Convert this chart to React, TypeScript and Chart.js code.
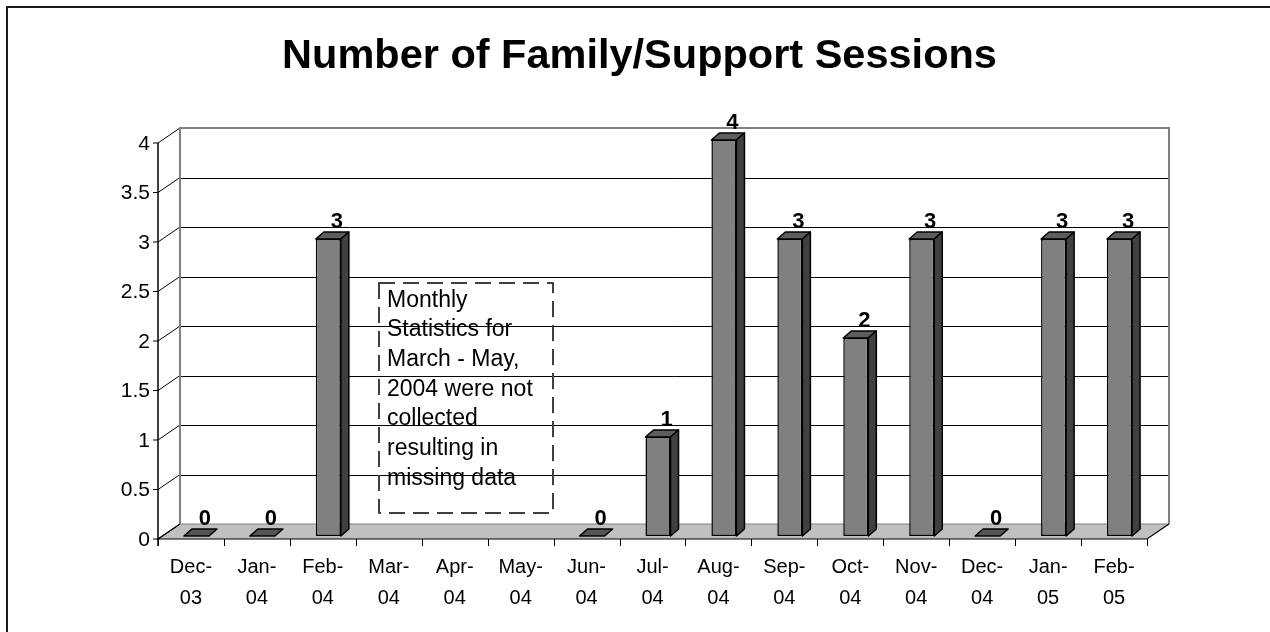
import { useEffect, useRef } from 'react';
import { Chart, registerables } from 'chart.js';

Chart.register(...registerables);

const categories = ['Dec-03', 'Jan-04', 'Feb-04', 'Mar-04', 'Apr-04', 'May-04', 'Jun-04', 'Jul-04', 'Aug-04', 'Sep-04', 'Oct-04', 'Nov-04', 'Dec-04', 'Jan-05', 'Feb-05'];
const sessions: (number | null)[] = [0, 0, 3, null, null, null, 0, 1, 4, 3, 2, 3, 0, 3, 3];
const yTicks = [0, 0.5, 1, 1.5, 2, 2.5, 3, 3.5, 4];
const yTickLabels = ['0', '0.5', '1', '1.5', '2', '2.5', '3', '3.5', '4'];
const titleText = 'Number of Family/Support Sessions';
const noteLines = ['Monthly', 'Statistics for', 'March - May,', '2004 were not', 'collected', 'resulting in', 'missing data'];

const FONT = "'Liberation Sans', Arial, sans-serif";
const FRONT = { dx: -5.5, dy: 3 };
const BACK = { dx: 16.5, dy: -12 };
const DEPTH = { dx: 8, dy: -7 };

const threeD = {
  id: 'threeD',
  beforeDraw(chart: any) {
    const { ctx, width, height } = chart;
    ctx.save();
    ctx.fillStyle = '#ffffff';
    ctx.fillRect(0, 0, width, height);
    ctx.fillStyle = '#1a1a1a';
    ctx.fillRect(6, 6, 2, height - 6);
    ctx.fillRect(6, 6, width - 6, 2);
    ctx.fillStyle = '#000';
    ctx.font = `bold 41.5px ${FONT}`;
    ctx.textAlign = 'center';
    ctx.textBaseline = 'alphabetic';
    ctx.fillText(titleText, 639.5, 68);
    ctx.restore();
  },
  beforeDatasetsDraw(chart: any) {
    const { ctx, chartArea: a, scales } = chart;
    const x = scales.x;
    const y = scales.y;
    const fl = a.left + FRONT.dx;
    const fr = a.right + FRONT.dx;
    const bl = a.left + BACK.dx;
    const br = a.right + BACK.dx;
    const y0 = y.getPixelForValue(0);
    const yTop = y.getPixelForValue(y.max);
    ctx.save();
    // floor
    ctx.fillStyle = '#c0c0c0';
    ctx.beginPath();
    ctx.moveTo(fl, y0 + FRONT.dy);
    ctx.lineTo(fr, y0 + FRONT.dy);
    ctx.lineTo(br, y0 + BACK.dy);
    ctx.lineTo(bl, y0 + BACK.dy);
    ctx.closePath();
    ctx.fill();
    // back wall gridlines and side wall diagonals
    ctx.lineWidth = 1;
    ctx.strokeStyle = '#000';
    yTicks.forEach((v) => {
      const py = y.getPixelForValue(v);
      if (v !== 0 && v !== y.max) {
        ctx.beginPath();
        ctx.moveTo(bl, Math.round(py + BACK.dy) + 0.5);
        ctx.lineTo(br, Math.round(py + BACK.dy) + 0.5);
        ctx.stroke();
      }
      ctx.beginPath();
      ctx.moveTo(fl, py + FRONT.dy);
      ctx.lineTo(bl, py + BACK.dy);
      ctx.stroke();
    });
    // back wall border (gray)
    ctx.strokeStyle = '#808080';
    ctx.lineWidth = 2;
    ctx.beginPath();
    ctx.moveTo(bl, y0 + BACK.dy);
    ctx.lineTo(bl, yTop + BACK.dy);
    ctx.lineTo(br, yTop + BACK.dy);
    ctx.lineTo(br, y0 + BACK.dy);
    ctx.stroke();
    ctx.lineWidth = 1;
    ctx.beginPath();
    ctx.moveTo(bl, y0 + BACK.dy);
    ctx.lineTo(br, y0 + BACK.dy);
    ctx.stroke();
    // floor edges
    ctx.strokeStyle = '#000';
    ctx.lineWidth = 1.2;
    ctx.beginPath();
    ctx.moveTo(bl, y0 + BACK.dy);
    ctx.lineTo(fl, y0 + FRONT.dy);
    ctx.lineTo(fr, y0 + FRONT.dy);
    ctx.lineTo(br, y0 + BACK.dy);
    ctx.stroke();
    // front y axis
    ctx.lineWidth = 1.5;
    ctx.beginPath();
    ctx.moveTo(fl, yTop + FRONT.dy);
    ctx.lineTo(fl, y0 + FRONT.dy + 7);
    ctx.stroke();
    ctx.lineWidth = 1;
    ctx.font = `21px ${FONT}`;
    ctx.fillStyle = '#000';
    ctx.textAlign = 'right';
    ctx.textBaseline = 'middle';
    yTicks.forEach((v, i) => {
      const py = y.getPixelForValue(v) + FRONT.dy;
      ctx.beginPath();
      ctx.moveTo(fl - 5, py);
      ctx.lineTo(fl, py);
      ctx.stroke();
      ctx.fillText(yTickLabels[i], fl - 8, py + 1);
    });
    // x ticks and labels
    const catW = x.getPixelForValue(1) - x.getPixelForValue(0);
    for (let i = 0; i <= categories.length; i++) {
      const px = Math.round(fl + i * catW) + 0.5;
      ctx.beginPath();
      ctx.moveTo(px, y0 + FRONT.dy);
      ctx.lineTo(px, y0 + FRONT.dy + 7);
      ctx.stroke();
    }
    ctx.font = `20px ${FONT}`;
    ctx.textAlign = 'center';
    ctx.textBaseline = 'alphabetic';
    categories.forEach((c, i) => {
      const px = x.getPixelForValue(i) + FRONT.dx;
      const idx = c.indexOf('-');
      ctx.fillText(c.slice(0, idx + 1), px, 573);
      ctx.fillText(c.slice(idx + 1), px, 604);
    });
    ctx.restore();
  },
  afterDatasetsDraw(chart: any) {
    const { ctx } = chart;
    const meta = chart.getDatasetMeta(0);
    ctx.save();
    ctx.lineWidth = 1.5;
    ctx.lineJoin = 'round';
    ctx.strokeStyle = '#000';
    meta.data.forEach((el: any, i: number) => {
      const v = sessions[i];
      if (v === null || v === undefined) return;
      const p = el.getProps(['x', 'y', 'base', 'width'], true);
      const x0 = p.x - p.width / 2;
      const x1 = p.x + p.width / 2;
      const top = p.y;
      const base = p.base;
      ctx.fillStyle = v === 0 ? '#555555' : '#5e5e5e';
      ctx.beginPath();
      ctx.moveTo(x0, top);
      ctx.lineTo(x1, top);
      ctx.lineTo(x1 + DEPTH.dx, top + DEPTH.dy);
      ctx.lineTo(x0 + DEPTH.dx, top + DEPTH.dy);
      ctx.closePath();
      ctx.fill();
      ctx.stroke();
      if (v !== 0) {
        ctx.fillStyle = '#404040';
        ctx.beginPath();
        ctx.moveTo(x1, top);
        ctx.lineTo(x1 + DEPTH.dx, top + DEPTH.dy);
        ctx.lineTo(x1 + DEPTH.dx, base + DEPTH.dy);
        ctx.lineTo(x1, base);
        ctx.closePath();
        ctx.fill();
        ctx.stroke();
      }
      ctx.fillStyle = '#000';
      ctx.font = `bold 22px ${FONT}`;
      ctx.textAlign = 'center';
      ctx.textBaseline = 'middle';
      ctx.fillText(String(v), p.x + 8.5, top - 17);
    });
    // note box
    ctx.setLineDash([16, 8]);
    ctx.strokeStyle = '#404040';
    ctx.lineWidth = 2;
    ctx.strokeRect(379, 283, 174, 230);
    ctx.setLineDash([]);
    ctx.fillStyle = '#000';
    ctx.font = `23px ${FONT}`;
    ctx.textAlign = 'left';
    ctx.textBaseline = 'alphabetic';
    noteLines.forEach((line, i) => {
      ctx.fillText(line, 387, 306.5 + i * 29.7);
    });
    ctx.restore();
  },
};

export default function App() {
  const ref = useRef<HTMLCanvasElement | null>(null);
  useEffect(() => {
    if (!ref.current) return;
    const chart = new Chart(ref.current, {
      type: 'bar',
      data: {
        labels: categories,
        datasets: [
          {
            data: sessions as any,
            backgroundColor: '#808080',
            borderColor: '#000',
            borderWidth: ((c: any) => (c.raw === 0 ? 0 : 1.5)) as any,
            borderSkipped: false,
            barPercentage: 0.38,
            categoryPercentage: 1,
          },
        ],
      },
      options: {
        responsive: false,
        animation: false,
        devicePixelRatio: 1,
        layout: { padding: { left: 163.5, right: 117.5, top: 140, bottom: 96 } },
        scales: {
          x: { display: false },
          y: { display: false, min: 0, max: 4 },
        },
        plugins: {
          legend: { display: false },
          tooltip: { enabled: false },
          title: { display: false },
        },
      },
      plugins: [threeD],
    });
    return () => chart.destroy();
  }, []);
  return (
    <div style={{ position: 'fixed', left: 0, top: 0, width: 1270, height: 632 }}>
      <canvas ref={ref} width={1270} height={632} style={{ width: 1270, height: 632, display: 'block' }} />
    </div>
  );
}
